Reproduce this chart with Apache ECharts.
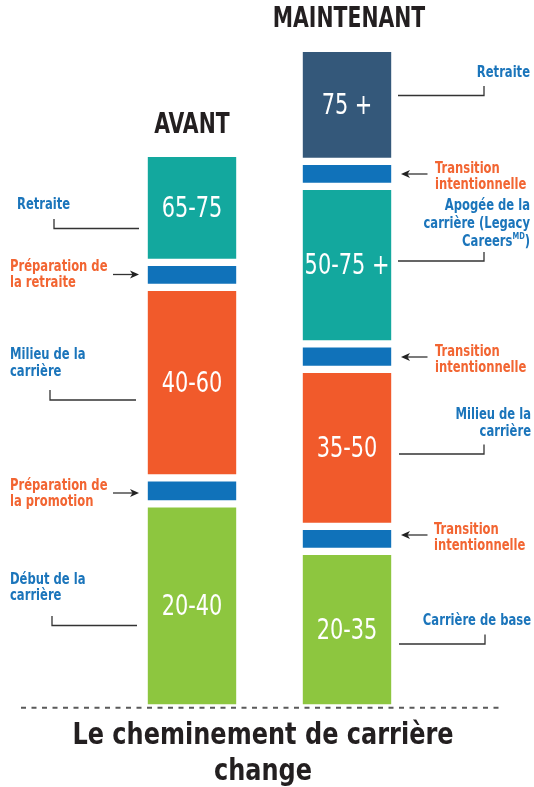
<!DOCTYPE html>
<html>
<head>
    <meta charset="utf-8">
    <title>Le cheminement de carrière change</title>
    <script src="https://cdn.jsdelivr.net/npm/echarts@6/dist/echarts.min.js"></script>
    <style>
        html, body { margin: 0; padding: 0; background: #fff; }
        #main { width: 534px; height: 787px; }
    </style>
</head>
<body>
    <div id="main"></div>
    <script type="text/javascript">
        // données : hauteur de chaque tranche, du bas vers le haut
        var categories = ['AVANT', 'MAINTENANT'];
        var levelNames = ['Début / base', 'Préparation / transition', 'Milieu de carrière',
            'Préparation / transition', 'Retraite / apogée', 'Transition', 'Retraite'];
        var levelColors = ['#8dc63f', '#1072ba', '#f15a2b', '#1072ba', '#13a89e', '#1072ba', '#34587a'];
        var avantValues = [204, 26, 190.5, 25, 109, null, null];
        var maintenantValues = [156.5, 25, 157, 25.5, 157.5, 25, 113];
        var avantAges = ['20-40', '', '40-60', '', '65-75', '', ''];
        var maintenantAges = ['20-35', '', '35-50', '', '50-75 +', '', '75 +'];

        var FONT = "'DejaVu Sans Condensed', 'DejaVu Sans', sans-serif";
        var BLUE = '#1b75bb';
        var ORANGE = '#f26532';
        var SQUEEZE = 0.83;   // la police d'origine est plus étroite

        var myChart = echarts.init(document.getElementById('main'));

        var series = levelNames.map(function (name, i) {
            return {
                name: name,
                type: 'bar',
                stack: 'total',
                barWidth: 95.6,
                data: [avantValues[i], maintenantValues[i]],
                itemStyle: { color: levelColors[i], borderColor: '#fff', borderWidth: 3.6 },
                silent: true
            };
        });

        myChart.setOption({
            animation: false,
            grid: { left: 114.5, width: 310, top: 47.8, height: 660 },
            xAxis: {
                type: 'category',
                data: categories,
                axisLine: { show: false },
                axisTick: { show: false },
                axisLabel: { show: false }
            },
            yAxis: { type: 'value', min: 0, max: 660, show: false },
            series: series
        });

        function squeezedText(x, y, style, sx) {
            return {
                type: 'text', z: 100, x: x, y: y, scaleX: sx || SQUEEZE,
                style: Object.assign({ x: 0, y: 0 }, style)
            };
        }

        var graphics = [];

        // âges au centre de chaque tranche
        [avantValues, maintenantValues].forEach(function (vals, c) {
            var ages = c === 0 ? avantAges : maintenantAges;
            var base = 0;
            vals.forEach(function (v, i) {
                if (v == null) return;
                if (ages[i]) {
                    var p = myChart.convertToPixel({ xAxisIndex: 0, yAxisIndex: 0 }, [c, base + v / 2]);
                    graphics.push(squeezedText(p[0], p[1] + 1.5, {
                        text: ages[i], fill: '#fff', font: '29px ' + FONT,
                        textAlign: 'center', textVerticalAlign: 'middle'
                    }, 0.8));
                }
                base += v;
            });
        });

        // annotations (texte + traits)
        var notes = [
            { text: 'Retraite', color: BLUE, x: 17, y: 205, align: 'left' },
            { text: 'Préparation de\nla retraite', color: ORANGE, x: 10, y: 275, align: 'left' },
            { text: 'Milieu de la\ncarrière', color: BLUE, x: 10, y: 363.5, align: 'left' },
            { text: 'Préparation de\nla promotion', color: ORANGE, x: 10, y: 494, align: 'left' },
            { text: 'Début de la\ncarrière', color: BLUE, x: 10, y: 588, align: 'left' },
            { text: 'Retraite', color: BLUE, x: 530, y: 72.5, align: 'right' },
            { text: 'Transition\nintentionnelle', color: ORANGE, x: 435, y: 177, align: 'left' },
            { text: 'Transition\nintentionnelle', color: ORANGE, x: 435, y: 360, align: 'left' },
            { text: 'Milieu de la\ncarrière', color: BLUE, x: 531, y: 423.5, align: 'right' },
            { text: 'Transition\nintentionnelle', color: ORANGE, x: 434, y: 538, align: 'left' },
            { text: 'Carrière de base', color: BLUE, x: 531, y: 621, align: 'right' }
        ];
        var leaders = [
            [[54, 219], [54, 228.5], [139, 228.5]],
            [[50, 390], [50, 400], [136, 400]],
            [[52, 616], [52, 625.5], [137, 625.5]],
            [[398, 95.5], [484, 95.5], [484, 86]],
            [[398, 261], [484, 261], [484, 252]],
            [[399, 454], [484, 454], [484, 444.5]],
            [[399, 644], [485, 644], [485, 634.5]]
        ];
        var arrows = [
            { from: 113, to: 139, y: 274.5 },
            { from: 113, to: 139, y: 493 },
            { from: 427.5, to: 401, y: 174 },
            { from: 427.5, to: 401, y: 357 },
            { from: 427.5, to: 401, y: 535 }
        ];

        notes.forEach(function (n) {
            graphics.push(squeezedText(n.x, n.y, {
                text: n.text, fill: n.color,
                font: 'bold 15.5px ' + FONT, lineHeight: 16.5,
                textAlign: n.align, textVerticalAlign: 'middle'
            }));
        });
        // Apogée de la carrière (Legacy CareersMD)
        graphics.push(squeezedText(530, 223.5, {
            text: '{a|Apogée de la}\n{a|carrière (Legacy}\n{a|Careers}{s|MD}{a|)}',
            textAlign: 'right', textVerticalAlign: 'middle',
            rich: {
                a: { fill: BLUE, font: 'bold 15.5px ' + FONT, lineHeight: 18 },
                s: { fill: BLUE, font: 'bold 9px ' + FONT, lineHeight: 18, verticalAlign: 'top' }
            }
        }));
        leaders.forEach(function (pts) {
            graphics.push({
                type: 'polyline', z: 100,
                shape: { points: pts },
                style: { stroke: '#333', lineWidth: 1.3, fill: null }
            });
        });
        arrows.forEach(function (a) {
            var dir = a.to > a.from ? 1 : -1;
            graphics.push({
                type: 'line', z: 100,
                shape: { x1: a.from, y1: a.y, x2: a.to - dir * 6, y2: a.y },
                style: { stroke: '#333', lineWidth: 1.3 }
            });
            graphics.push({
                type: 'polygon', z: 100,
                shape: { points: [[a.to, a.y], [a.to - dir * 9, a.y - 4], [a.to - dir * 6.5, a.y], [a.to - dir * 9, a.y + 4]] },
                style: { fill: '#222' }
            });
        });
        // titres des colonnes
        graphics.push(squeezedText(192, 126, {
            text: categories[0], fill: '#231f20', font: 'bold 28px ' + FONT,
            textAlign: 'center', textVerticalAlign: 'middle'
        }, 0.81));
        graphics.push(squeezedText(349, 20, {
            text: categories[1], fill: '#231f20', font: 'bold 28px ' + FONT,
            textAlign: 'center', textVerticalAlign: 'middle'
        }, 0.81));
        // ligne de base pointillée
        graphics.push({
            type: 'line', z: 100,
            shape: { x1: 21, y1: 707.8, x2: 500, y2: 707.8 },
            style: { stroke: '#5a5a5a', lineWidth: 2, lineDash: [5, 5.5] }
        });
        // titre
        graphics.push(squeezedText(263, 754, {
            text: 'Le cheminement de carrière\nchange', fill: '#231f20',
            font: 'bold 30px ' + FONT, lineHeight: 36,
            textAlign: 'center', textVerticalAlign: 'middle'
        }, 0.89));

        myChart.setOption({ graphic: graphics });
    </script>
</body>
</html>
